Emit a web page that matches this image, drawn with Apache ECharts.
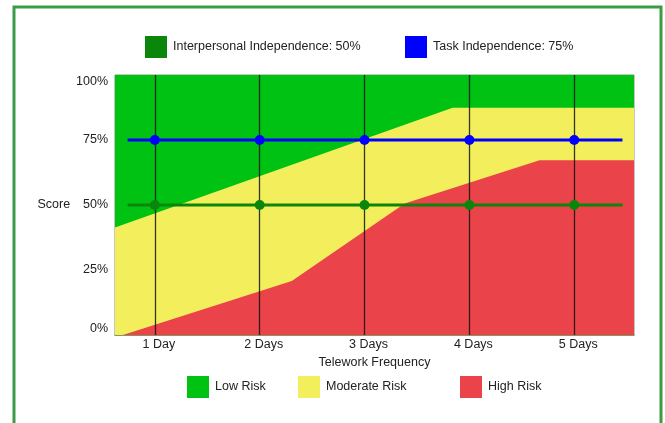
<!DOCTYPE html>
<html>
<head>
<meta charset="utf-8">
<script src="https://cdn.jsdelivr.net/npm/echarts@6/dist/echarts.min.js"></script>
<style>
  html, body { margin: 0; padding: 0; background: #fff; }
  #chart { width: 665px; height: 423px; }
</style>
</head>
<body>
<div id="chart"></div>
<script>
// Telework frequency categories and their positions on the x scale
const days = ['1 Day', '2 Days', '3 Days', '4 Days', '5 Days'];
const dayX = [1, 2, 3, 4, 5];

// Independence scores (%) for each telework frequency
const interpersonal = [50, 50, 50, 50, 50];
const task = [75, 75, 75, 75, 75];
// x range covered by the score lines
const scoreSpan = [0.74, 5.46];

// Upper boundaries (%) of the risk zones, as [x, score] points
const lowRiskTop = [[0.62, 100], [5.57, 100]];
const moderateRiskTop = [[0.62, 41.3], [3.84, 87.4], [5.57, 87.4]];
const highRiskTop = [[0.62, 0], [0.695, 0], [2.306, 20.8], [3.383, 50.6], [4.669, 67.2], [5.57, 67.2]];

const FONT = 'Liberation Sans, Arial, sans-serif';
const TEXT = '#222';

function scoreLine(values) {
  const pts = [{ value: [scoreSpan[0], values[0]], symbol: 'none' }];
  dayX.forEach((x, i) => pts.push([x, values[i]]));
  pts.push({ value: [scoreSpan[1], values[values.length - 1]], symbol: 'none' });
  return pts;
}

function zone(name, data, color, extra) {
  return Object.assign({
    name: name,
    type: 'line',
    data: data,
    symbol: 'none',
    lineStyle: { width: 0 },
    itemStyle: { color: color },
    areaStyle: { color: color, opacity: 1 },
    silent: true,
    z: 1
  }, extra || {});
}

const legendBase = {
  orient: 'horizontal',
  padding: 0,
  icon: 'rect',
  itemWidth: 22,
  itemHeight: 22,
  selectedMode: false,
  textStyle: { fontFamily: FONT, fontSize: 12.5, color: TEXT, padding: [2, 0, 0, 1] }
};

const chart = echarts.init(document.getElementById('chart'), null, { renderer: 'canvas' });

chart.setOption({
  animation: false,
  backgroundColor: '#fff',
  textStyle: { fontFamily: FONT },
  graphic: [{
    type: 'rect',
    shape: { x: 14, y: 7, width: 647, height: 440 },
    style: { fill: 'none', stroke: '#3c9c46', lineWidth: 3 },
    silent: true,
    z: -10
  }],
  legend: [
    Object.assign({ data: ['Interpersonal Independence: 50%'], left: 145, top: 36 }, legendBase),
    Object.assign({ data: ['Task Independence: 75%'], left: 405, top: 36 }, legendBase),
    Object.assign({ data: ['Low Risk'], left: 187, top: 376 }, legendBase),
    Object.assign({ data: ['Moderate Risk'], left: 298, top: 376 }, legendBase),
    Object.assign({ data: ['High Risk'], left: 460, top: 376 }, legendBase)
  ],
  grid: {
    left: 115, right: 31, top: 75, bottom: 88,
    show: true, borderColor: '#8a8f86', borderWidth: 1, backgroundColor: 'transparent'
  },
  xAxis: {
    type: 'value',
    min: 0.62,
    max: 5.57,
    name: 'Telework Frequency',
    nameLocation: 'middle',
    nameGap: 14,
    nameTextStyle: { fontFamily: FONT, fontSize: 12.5, color: TEXT },
    axisLine: { show: true, lineStyle: { color: '#6b8b45', width: 1.5 } },
    axisTick: { show: false },
    splitLine: { show: false },
    axisLabel: {
      customValues: dayX,
      formatter: v => days[dayX.indexOf(v)] || '',
      fontFamily: FONT, fontSize: 12.5, color: TEXT,
      margin: 3,
      padding: [0, 0, 0, 8]
    }
  },
  yAxis: {
    type: 'value',
    min: 0,
    max: 100,
    interval: 25,
    name: 'Score',
    nameLocation: 'middle',
    nameRotate: 0,
    nameGap: 42,
    nameTextStyle: { fontFamily: FONT, fontSize: 12.5, color: TEXT },
    axisLine: { show: false },
    axisTick: { show: false },
    splitLine: { show: false },
    axisLabel: {
      formatter: '{value}%',
      fontFamily: FONT, fontSize: 12.5, color: TEXT,
      margin: 7,
      verticalAlignMaxLabel: 'top',
      verticalAlignMinLabel: 'bottom'
    }
  },
  series: [
    zone('Low Risk', lowRiskTop, '#00c213'),
    zone('Moderate Risk', moderateRiskTop, '#f3ef5c'),
    zone('High Risk', highRiskTop, '#ea4349', {
      markLine: {
        silent: true,
        symbol: ['none', 'none'],
        label: { show: false },
        lineStyle: { color: 'rgba(20,20,20,0.85)', width: 1.3, type: 'solid' },
        emphasis: { disabled: true },
        data: dayX.map(x => ({ xAxis: x }))
      }
    }),
    {
      name: 'Interpersonal Independence: 50%',
      type: 'line',
      data: scoreLine(interpersonal),
      symbol: 'circle',
      symbolSize: 10,
      lineStyle: { color: '#0a870a', width: 3 },
      itemStyle: { color: '#0a870a' },
      z: 5
    },
    {
      name: 'Task Independence: 75%',
      type: 'line',
      data: scoreLine(task),
      symbol: 'circle',
      symbolSize: 10,
      lineStyle: { color: '#0000ff', width: 3 },
      itemStyle: { color: '#0000ff' },
      z: 5
    }
  ]
});
</script>
</body>
</html>
